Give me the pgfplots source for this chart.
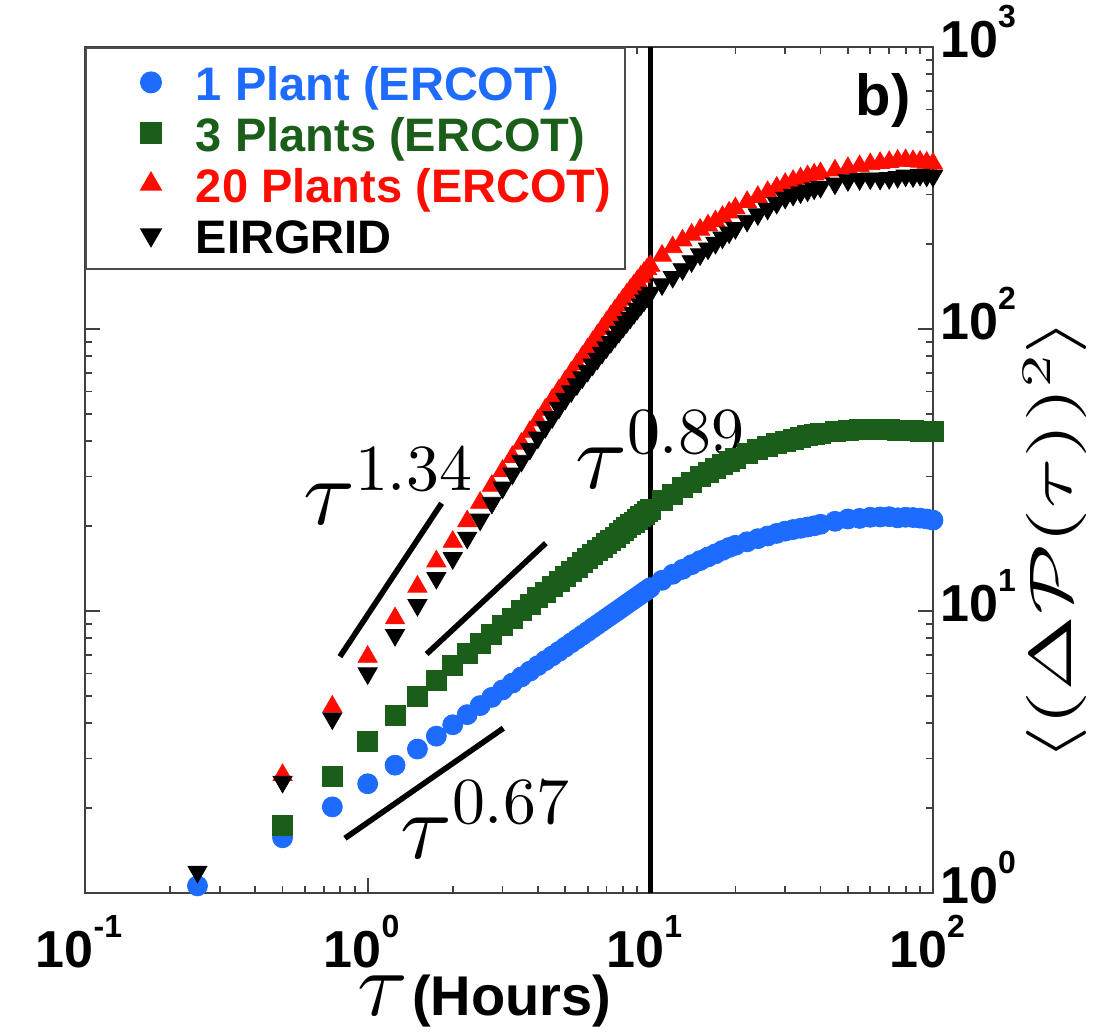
\documentclass[border=0pt]{standalone}
\usepackage[no-math]{fontspec}
\setmainfont{Liberation Sans}
\usepackage{graphicx}
\usepackage{pgfplots}
\usepackage{pgfplotstable}
\pgfplotsset{compat=1.18}

% freely scalable Computer Modern for the large math annotations
\DeclareFontShape{OML}{cmm}{m}{it}{<->cmmi10}{}
\DeclareFontShape{OMS}{cmsy}{m}{n}{<->cmsy10}{}
\DeclareFontShape{OT1}{cmr}{m}{n}{<->cmr10}{}
\DeclareFontShape{OMX}{cmex}{m}{n}{<->cmex10}{}

\definecolor{cBlue}{RGB}{30,108,255}
\definecolor{cGreen}{RGB}{26,94,26}
\definecolor{cRed}{RGB}{255,12,0}

% power-of-ten tick label in bold sans
\newcommand\pw[1]{10\raisebox{15pt}{\fontsize{16}{16}\selectfont #1}}
% uniform legend row height
\newcommand\lgstrut{\rule[-4.6pt]{0pt}{24.5pt}}
% legend sample: one mark with room around it
\pgfplotsset{legmark/.style={legend image code/.code={%
  \path (0pt,0pt) (47pt,0pt);
  \draw[##1] plot coordinates {(27pt,0pt)};}}}

\begin{document}

% mean squared power fluctuation vs. time lag
\pgfplotstableread{
t v
0.25 1.06
0.5 1.57
0.75 2.02
1.0 2.44
1.25 2.84
1.5 3.24
1.75 3.60
2.0 3.95
2.25 4.29
2.5 4.62
2.75 4.94
3.0 5.25
3.25 5.55
3.5 5.84
3.75 6.12
4.0 6.40
4.25 6.67
4.5 6.93
4.75 7.19
5.0 7.45
5.25 7.71
5.5 7.96
5.75 8.21
6.0 8.46
6.25 8.71
6.5 8.95
6.75 9.19
7.0 9.43
7.25 9.66
7.5 9.89
7.75 10.12
8.0 10.35
8.25 10.58
8.5 10.80
8.75 11.02
9.0 11.24
9.25 11.46
9.5 11.68
9.75 11.89
10 12.10
11 12.85
12 13.50
13 14.05
14 14.60
15 15.10
16 15.55
17 15.95
18 16.40
19 16.80
20 17.10
22 17.60
24 18.05
26 18.45
28 18.85
30 19.20
32 19.45
34 19.65
36 19.85
38 20.05
40 20.30
45 20.80
50 21.20
55 21.30
60 21.50
65 21.55
70 21.60
75 21.40
80 21.50
85 21.45
90 21.35
95 21.20
100 21.00
}\onePlant

\pgfplotstableread{
t v
0.5 1.74
0.75 2.59
1.0 3.44
1.25 4.28
1.5 4.97
1.75 5.69
2.0 6.44
2.25 7.07
2.5 7.68
2.75 8.28
3.0 8.87
3.25 9.45
3.5 10.02
3.75 10.58
4.0 11.13
4.25 11.68
4.5 12.22
4.75 12.76
5.0 13.28
5.25 13.80
5.5 14.32
5.75 14.83
6.0 15.34
6.25 15.84
6.5 16.34
6.75 16.84
7.0 17.33
7.25 17.81
7.5 18.30
7.75 18.78
8.0 19.25
8.25 19.73
8.5 20.20
8.75 20.67
9.0 21.13
9.25 21.59
9.5 22.05
9.75 22.51
10 22.96
11 24.60
12 26.00
13 27.35
14 28.65
15 29.90
16 31.00
17 32.00
18 33.00
19 34.00
20 34.90
22 36.20
24 37.30
26 38.30
28 39.20
30 40.00
32 40.70
34 41.30
36 41.80
38 42.20
40 42.60
45 43.30
50 43.80
55 44.00
60 44.10
65 44.00
70 43.90
75 43.80
80 43.70
85 43.60
90 43.50
95 43.40
100 43.30
}\threePlants

\pgfplotstableread{
t v
0.5 2.62
0.75 4.58
1.0 6.88
1.25 9.42
1.5 12.2
1.75 15.0
2.0 17.6
2.25 20.8
2.5 24.2
2.75 27.8
3.0 31.4
3.25 35.2
3.5 39.2
3.75 43.2
4.0 47.4
4.25 51.7
4.5 56.1
4.75 60.6
5.0 65.2
5.25 70.0
5.5 74.8
5.75 79.7
6.0 84.7
6.25 89.8
6.5 95.0
6.75 100.2
7.0 105.6
7.25 111.0
7.5 116.3
7.75 121.6
8.0 127.0
8.25 132.3
8.5 137.6
8.75 142.8
9.0 148.0
9.25 153.2
9.5 158.2
9.75 163.0
10 167.5
11 182
12 195
13 206
14 216
15 225
16 233
17 241
18 250
19 259
20 268
22 282
24 294
26 306
28 317
30 327
32 335
34 342
36 348
38 353
40 357
45 365
50 372
55 378
60 384
65 388
70 391
75 395
80 397
85 394
90 392
95 389
100 386
}\twentyPlants

\pgfplotstableread{
t v
0.25 1.19
0.5 2.48
0.75 4.16
1.0 6.01
1.25 8.22
1.5 10.5
1.75 13.1
2.0 15.4
2.25 18.2
2.5 21.1
2.75 24.2
3.0 27.4
3.25 30.7
3.5 34.1
3.75 37.6
4.0 41.2
4.25 44.9
4.5 48.7
4.75 52.6
5.0 56.6
5.25 60.1
5.5 63.7
5.75 67.4
6.0 71.1
6.25 74.8
6.5 78.5
6.75 82.3
7.0 86.2
7.25 90.0
7.5 93.9
7.75 97.8
8.0 101.8
8.25 105.8
8.5 109.8
8.75 113.9
9.0 118.0
9.25 122.1
9.5 126.2
9.75 130.4
10 134.5
11 144
12 153
13 163
14 174
15 184
16 193
17 202
18 211
19 220
20 228
22 242
24 255
26 267
28 280
30 292
32 299
34 305
36 310
38 315
40 319
45 328
50 337
55 340
60 342
65 341
70 343
75 346
80 350
85 348
90 352
95 350
100 349
}\eirgrid

\begin{tikzpicture}
\path[use as bounding box] (-42.5pt,-71pt) rectangle (504pt,446.5pt);
\begin{axis}[
  at={(0,0)}, anchor=south west,
  width=424pt, height=423pt, scale only axis,
  xmode=log, ymode=log,
  xmin=0.1, xmax=100, ymin=1, ymax=1000,
  clip=false,
  axis line style={line width=1pt, black!75},
  tick style={line width=0.9pt, black!75},
  major tick length=7.5pt, minor tick length=3.5pt,
  tick align=inside,
  xtick={0.1,1,10,100},
  xticklabels={\pw{-1},\pw{0},\pw{1},\pw{2}},
  minor xtick={0.2,0.3,0.4,0.5,0.6,0.7,0.8,0.9,2,3,4,5,6,7,8,9,20,30,40,50,60,70,80,90},
  ytick={1,10,100,1000},
  yticklabels={\pw{0},\pw{1},\pw{2},\pw{3}},
  minor ytick={2,3,4,5,6,7,8,9,20,30,40,50,60,70,80,90,200,300,400,500,600,700,800,900},
  ytick pos=both,
  yticklabel pos=right,
  ticklabel style={font=\fontsize{26}{26}\selectfont\bfseries, inner sep=0pt},
  xticklabel style={anchor=base, yshift=-37pt, xshift=-3pt},
  yticklabel style={anchor=base west, xshift=3.5pt, yshift=-5pt},
  legend style={at={(rel axis cs:0,1)}, anchor=north west,
    draw=black!70, line width=1pt, fill=white,
    inner xsep=5pt, inner ysep=4.5pt, row sep=0pt,
    font=\fontsize{23.5}{25}\selectfont\bfseries,
    cells={anchor=west}},
  legend cell align=left,
]
\addplot[only marks, mark=*, mark size=5pt, color=cBlue, legmark] table[x=t,y=v] {\onePlant};
\addlegendentry{\lgstrut\textcolor{cBlue}{1 Plant (ERCOT)}}
\addplot[only marks, mark=square*, mark size=5pt, color=cGreen, legmark] table[x=t,y=v] {\threePlants};
\addlegendentry{\lgstrut\textcolor{cGreen}{3 Plants (ERCOT)}}
\addplot[only marks, mark=triangle*, mark size=5.5pt, color=cRed, legmark] table[x=t,y=v] {\twentyPlants};
\addlegendentry{\lgstrut\textcolor{cRed}{20 Plants (ERCOT)}}
\addplot[only marks, mark=triangle*, mark size=5.5pt, color=black, mark options={rotate=180}, legmark] table[x=t,y=v] {\eirgrid};
\addlegendentry{\lgstrut EIRGRID}

% guide lines for the power-law slopes
\addplot[forget plot, black, line width=2.8pt] coordinates {(0.798,6.89) (1.827,24.1)};
\addplot[forget plot, black, line width=2.8pt] coordinates {(1.617,7.04) (4.27,17.4)};
\addplot[forget plot, black, line width=2.8pt] coordinates {(0.831,1.563) (3.02,3.84)};
% ten-hour marker
\addplot[forget plot, black, line width=2.5pt] coordinates {(10,1) (10,1000)};

\node[anchor=base west, inner sep=0pt, font=\fontsize{47}{47}\selectfont] at (axis cs:0.59,20.2) {$\tau^{1.34}$};
\node[anchor=base west, inner sep=0pt, font=\fontsize{47}{47}\selectfont] at (axis cs:5.41,27.3) {$\tau^{0.89}$};
\node[anchor=base west, inner sep=0pt, font=\fontsize{47}{47}\selectfont] at (axis cs:1.30,1.33) {$\tau^{0.67}$};
\node[inner sep=0pt, font=\fontsize{29}{29}\selectfont\bfseries] at (rel axis cs:0.941,0.937) {b)};

% axis titles
\node[anchor=base west, inner sep=0pt] at (rel axis cs:0.321,-0.145)
  {{\fontsize{46}{46}\selectfont$\tau$}\hspace{2pt}{\fontsize{28}{28}\selectfont\bfseries(Hours)}};
\node[rotate=90, inner sep=0pt, font=\fontsize{30}{30}\selectfont] at (rel axis cs:1.1439,0.417)
  {\scalebox{1.52}[1]{$\langle(\Delta\mathcal{P}(\tau))^2\rangle$}};
\end{axis}
\end{tikzpicture}
\end{document}
